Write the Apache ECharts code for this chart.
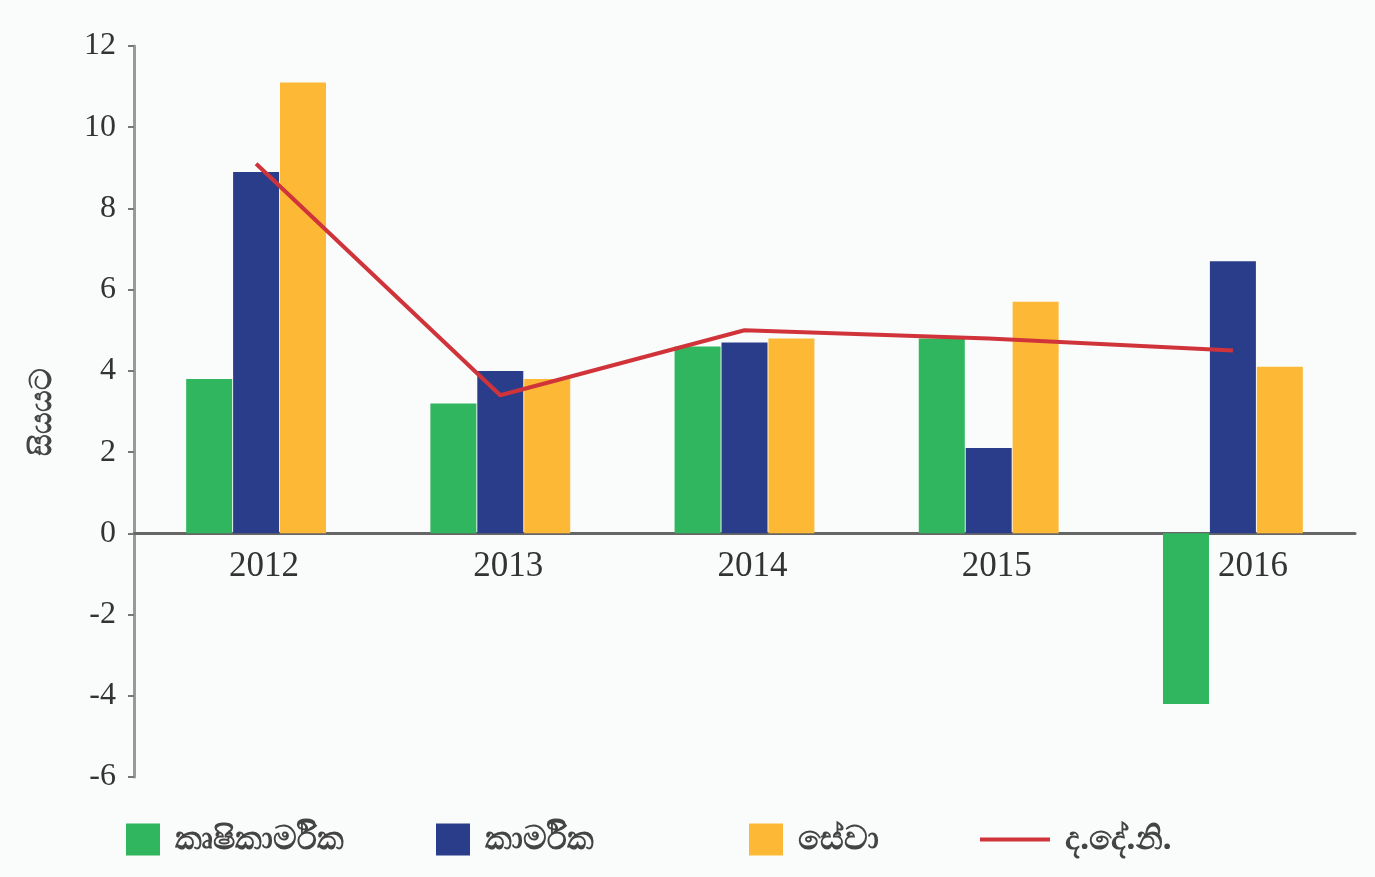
<!DOCTYPE html>
<html>
<head>
<meta charset="utf-8">
<script src="https://cdn.jsdelivr.net/npm/echarts@6/dist/echarts.min.js"></script>
<style>
  html, body { margin: 0; padding: 0; background: #fafcfb; }
  #chart { width: 1375px; height: 877px; }
</style>
</head>
<body>
<div id="chart"></div>
<script>
// data
var years = ['2012', '2013', '2014', '2015', '2016'];
var agri = [3.8, 3.2, 4.6, 4.8, -4.2];
var industry = [8.9, 4.0, 4.7, 2.1, 6.7];
var services = [11.1, 3.8, 4.8, 5.7, 4.1];
var gdp = [9.1, 3.4, 5.0, 4.8, 4.5];

var names = ['කෘෂිකාර්මික', 'කාර්මික', 'සේවා', 'ද.දේ.නි.'];
var colors = ['#2fb65e', '#2a3d8b', '#fdb935', '#d0343a'];

var chart = echarts.init(document.getElementById('chart'));

var legendText = {
  fontSize: 33, fontWeight: 'bold', color: '#444',
  fontFamily: 'Noto Sans, DejaVu Sans, sans-serif',
  padding: [0, 0, 0, 10]
};
function legendAt(name, left, extra) {
  return Object.assign({
    data: [name],
    left: left,
    top: 818,
    itemWidth: 34,
    itemHeight: 32,
    itemGap: 0,
    textStyle: legendText,
    selectedMode: false
  }, extra || {});
}

var yearFont = { fontSize: 35, color: '#333', fontFamily: 'Liberation Serif, serif' };

chart.setOption({
  backgroundColor: '#fafcfb',
  animation: false,
  color: colors,
  grid: { left: 134, right: 20, top: 46, bottom: 100 },
  legend: [
    legendAt(names[0], 121, { icon: 'rect' }),
    legendAt(names[1], 431, { icon: 'rect' }),
    legendAt(names[2], 744, { icon: 'rect' }),
    legendAt(names[3], 975, { icon: 'rect', itemWidth: 70, itemHeight: 4 })
  ],
  xAxis: {
    type: 'category',
    data: years,
    axisLine: { onZero: true, lineStyle: { color: '#666', width: 3 } },
    axisTick: { show: false },
    axisLabel: {
      margin: -228,
      formatter: function (v) {
        return (v === '2016' ? '{w|' : '{n|') + v + '}';
      },
      rich: {
        n: Object.assign({ padding: [0, 0, 0, 16] }, yearFont),
        w: Object.assign({ padding: [0, 0, 0, 40] }, yearFont)
      }
    }
  },
  yAxis: {
    type: 'value',
    min: -6,
    max: 12,
    interval: 2,
    name: 'සියයට',
    nameLocation: 'middle',
    nameRotate: 90,
    nameGap: 76,
    nameTextStyle: { fontSize: 30, fontWeight: 'bold', color: '#444' },
    splitLine: { show: false },
    axisLine: { show: true, lineStyle: { color: '#999', width: 3 } },
    axisTick: { show: true, length: 6, lineStyle: { color: '#777', width: 2 } },
    axisLabel: {
      fontSize: 32,
      color: '#333',
      fontFamily: 'Liberation Serif, serif',
      margin: 18
    }
  },
  series: [
    { name: names[0], type: 'bar', data: agri, barWidth: 46, barGap: '2%' },
    { name: names[1], type: 'bar', data: industry, barWidth: 46, barGap: '2%' },
    { name: names[2], type: 'bar', data: services, barWidth: 46, barGap: '2%' },
    {
      name: names[3], type: 'line', data: gdp,
      symbol: 'none',
      lineStyle: { width: 4, color: colors[3] },
      z: 5
    }
  ]
});
</script>
</body>
</html>
